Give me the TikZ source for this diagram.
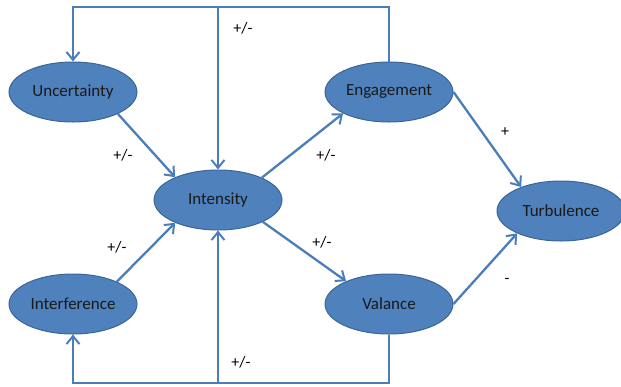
\documentclass[tikz,border=0pt]{standalone}
\usepackage{fontspec}
\setmainfont{Carlito}
\usetikzlibrary{arrows.meta,shapes.geometric}
\definecolor{efill}{HTML}{4F81BD}
\definecolor{edraw}{HTML}{3A6596}
\definecolor{lcol}{HTML}{4A7EBB}
\tikzset{
  ell/.style={ellipse, fill=efill, draw=edraw, line width=1pt, minimum width=128pt, minimum height=60pt, inner sep=0pt, font=\fontsize{17}{19}\selectfont, text=black!90},
  conn/.style={draw=lcol, line width=2.3pt},
  arr/.style={conn, -{Straight Barb[length=8pt,width=13pt,line width=2pt]}},
  lbl/.style={font=\fontsize{16}{18}\selectfont, inner sep=0pt, text=black}
}
\begin{document}
\begin{tikzpicture}[x=1pt,y=-1pt]
\useasboundingbox (0,0) rectangle (621,386);
\node[ell] (unc) at (73,92) {Uncertainty};
\node[ell] (int) at (218,200) {Intensity};
\node[ell] (itf) at (73,304) {Interference};
\node[ell] (eng) at (389,92) {Engagement};
\node[ell] (val) at (389,304) {Valance};
\node[ell] (tur) at (561,211) {Turbulence};
\coordinate (tl) at (73,7);
\coordinate (tm) at (218,7);
\coordinate (tr) at (389,7);
\coordinate (bl) at (73,383);
\coordinate (bm) at (218,383);
\coordinate (br) at (389,383);
\draw[arr] (eng.north) -- (tr) -- (tl) -- (unc.north);
\draw[arr] (tm) -- (int.north);
\draw[arr] (val.south) -- (br) -- (bl) -- (itf.south);
\draw[arr] (bm) -- (int.south);
\draw[arr] (unc.-26) -- (int.152);
\draw[arr] (itf.27) -- (int.-152);
\draw[arr] (int.27) -- (eng.-155);
\draw[arr] (int.-26) -- (val.152);
\draw[arr] (eng.east) -- (tur.149);
\draw[arr] (val.east) -- (tur.-153);
\node[lbl] (l1) at (243,28) {+/-};
\node[lbl] (l2) at (123,155) {+/-};
\node[lbl] (l3) at (326,155) {+/-};
\node[lbl] (l4) at (117,247) {+/-};
\node[lbl] (l5) at (322,242) {+/-};
\node[lbl] (l6) at (241,362) {+/-};
\node[lbl] (l7) at (505,132) {+};
\node[lbl] (l8) at (507,281) {-};
\end{tikzpicture}
\end{document}
